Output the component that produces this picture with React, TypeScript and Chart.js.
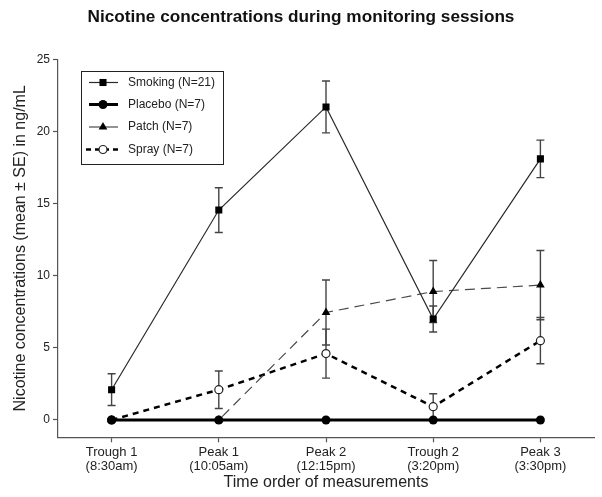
import React, { useEffect, useRef } from 'react';
import { Chart, registerables } from 'chart.js';
import { drawPoint } from 'chart.js/helpers';

Chart.register(...registerables);

const categories: string[][] = [
  ['Trough 1', '(8:30am)'],
  ['Peak 1', '(10:05am)'],
  ['Peak 2', '(12:15pm)'],
  ['Trough 2', '(3:20pm)'],
  ['Peak 3', '(3:30pm)'],
];
const seriesNames = ['Smoking (N=21)', 'Placebo (N=7)', 'Patch (N=7)', 'Spray (N=7)'];
const smoking = [2.1, 14.55, 21.7, 7.0, 18.1];
const smokingSE = [1.1, 1.55, 1.8, 0.9, 1.3];
const placebo = [0, 0, 0, 0, 0];
const placeboSE = [0, 0, 0, 0, 0];
const patch = [0, 0, 7.45, 8.9, 9.35];
const patchSE = [0, 0, 2.25, 2.15, 2.4];
const spray = [0, 2.1, 4.6, 0.92, 5.5];
const spraySE = [0, 1.3, 1.7, 0.9, 1.6];
const yTicks = [0, 5, 10, 15, 20, 25];

const titleText = 'Nicotine concentrations during monitoring sessions';
const xTitle = 'Time order of measurements';
const yTitle = 'Nicotine concentrations (mean \u00b1 SE) in ng/mL';

const FONT = '"Liberation Sans", Arial, Helvetica, sans-serif';

const errorBarPlugin = {
  id: 'errorBars',
  beforeDatasetsDraw(chart: any) {
    const { ctx } = chart;
    const yScale = chart.scales.y;
    ctx.save();
    ctx.strokeStyle = '#444';
    ctx.lineWidth = 1.4;
    chart.data.datasets.forEach((ds: any, i: number) => {
      const meta = chart.getDatasetMeta(i);
      const errs: number[] = ds.errors || [];
      meta.data.forEach((pt: any, j: number) => {
        const se = errs[j];
        if (!se) return;
        const v = ds.data[j];
        const yt = yScale.getPixelForValue(v + se);
        const yb = yScale.getPixelForValue(v - se);
        const x = pt.x;
        ctx.beginPath();
        ctx.moveTo(x, yt);
        ctx.lineTo(x, yb);
        ctx.moveTo(x - 4, yt);
        ctx.lineTo(x + 4, yt);
        ctx.moveTo(x - 4, yb);
        ctx.lineTo(x + 4, yb);
        ctx.stroke();
      });
    });
    ctx.restore();
  },
};

const titlePlugin = {
  id: 'customTitle',
  afterDraw(chart: any) {
    const { ctx } = chart;
    ctx.save();
    ctx.font = `bold 17.2px ${FONT}`;
    ctx.fillStyle = '#111';
    ctx.textAlign = 'center';
    ctx.textBaseline = 'middle';
    ctx.fillText(titleText, 301, 17);
    ctx.restore();
  },
};

const legendPlugin = {
  id: 'customLegend',
  afterDraw(chart: any) {
    const { ctx } = chart;
    ctx.save();
    ctx.fillStyle = '#fff';
    ctx.fillRect(81.5, 71.5, 142, 93);
    ctx.strokeStyle = '#222';
    ctx.lineWidth = 1;
    ctx.strokeRect(81.5, 71.5, 142, 93);
    const rows = [82.5, 104.5, 127, 149.5];
    chart.data.datasets.forEach((ds: any, i: number) => {
      const y = rows[i];
      ctx.save();
      ctx.strokeStyle = ds.borderColor;
      ctx.lineWidth = ds.borderWidth;
      ctx.setLineDash(i === 3 ? [5, 4] : []);
      ctx.beginPath();
      ctx.moveTo(i === 3 ? 86 : 89, y);
      ctx.lineTo(118, y);
      ctx.stroke();
      ctx.restore();
      ctx.save();
      ctx.fillStyle = ds.pointBackgroundColor;
      ctx.strokeStyle = ds.pointBorderColor;
      ctx.lineWidth = ds.pointBorderWidth;
      drawPoint(ctx, {
        pointStyle: ds.pointStyle,
        rotation: 0,
        radius: ds.pointRadius,
        borderWidth: ds.pointBorderWidth,
      } as any, 103, y);
      ctx.restore();
      ctx.fillStyle = '#222';
      ctx.font = `12px ${FONT}`;
      ctx.textAlign = 'left';
      ctx.textBaseline = 'middle';
      ctx.fillText(ds.label, 128, y);
    });
    ctx.restore();
  },
};

export default function App() {
  const canvasRef = useRef<HTMLCanvasElement | null>(null);

  useEffect(() => {
    const canvas = canvasRef.current;
    if (!canvas) return;
    const chart = new Chart(canvas, {
      type: 'line',
      data: {
        labels: categories,
        datasets: [
          {
            label: seriesNames[0],
            data: smoking,
            errors: smokingSE,
            borderColor: '#2a2a2a',
            borderWidth: 1.2,
            pointStyle: 'rect',
            pointRadius: 5,
            pointBackgroundColor: '#000',
            pointBorderColor: '#000',
            pointBorderWidth: 0,
            fill: false,
            tension: 0,
          } as any,
          {
            label: seriesNames[1],
            data: placebo,
            errors: placeboSE,
            borderColor: '#000',
            borderWidth: 3,
            pointStyle: 'circle',
            pointRadius: 4.5,
            pointBackgroundColor: '#000',
            pointBorderColor: '#000',
            pointBorderWidth: 0,
            fill: false,
            tension: 0,
          },
          {
            label: seriesNames[2],
            data: patch,
            errors: patchSE,
            borderColor: '#4a4a4a',
            borderWidth: 1.2,
            borderDash: [10, 6],
            pointStyle: 'triangle',
            pointRadius: 5,
            pointBackgroundColor: '#000',
            pointBorderColor: '#000',
            pointBorderWidth: 0,
            fill: false,
            tension: 0,
          },
          {
            label: seriesNames[3],
            data: spray,
            errors: spraySE,
            borderColor: '#000',
            borderWidth: 2.5,
            borderDash: [6, 5],
            pointStyle: 'circle',
            pointRadius: 4,
            pointBackgroundColor: '#fff',
            pointBorderColor: '#222',
            pointBorderWidth: 1.2,
            fill: false,
            tension: 0,
          },
        ],
      },
      options: {
        responsive: false,
        animation: false,
        layout: { padding: { top: 59.3, right: 8, left: 0, bottom: 0 } },
        plugins: {
          legend: { display: false },
          tooltip: { enabled: false },
          title: { display: false },
        },
        scales: {
          x: {
            type: 'category',
            offset: true,
            afterFit: (s: any) => { s.height = 59.7; },
            grid: {
              display: true,
              offset: false,
              drawOnChartArea: false,
              drawTicks: true,
              tickLength: 5,
              color: '#555',
              tickWidth: 1.2,
            },
            border: { display: true, color: '#555', width: 1.2 },
            ticks: {
              padding: 3,
              color: '#222',
              maxRotation: 0,
              autoSkip: false,
              font: { size: 13, family: FONT, lineHeight: 1.08 },
            },
            title: {
              display: true,
              text: xTitle,
              color: '#222',
              padding: { top: 0, bottom: 4.5 },
              font: { size: 16, family: FONT, lineHeight: 1.2 },
            },
          },
          y: {
            type: 'linear',
            min: -1.2,
            max: 25,
            afterBuildTicks: (s: any) => { s.ticks = yTicks.map((v) => ({ value: v })); },
            afterFit: (s: any) => { s.width = 58; },
            grid: {
              display: true,
              drawOnChartArea: false,
              drawTicks: true,
              tickLength: 5,
              color: '#555',
              tickWidth: 1.2,
            },
            border: { display: true, color: '#555', width: 1.2 },
            ticks: {
              padding: 3,
              color: '#222',
              font: { size: 12, family: FONT },
            },
            title: {
              display: true,
              text: yTitle,
              color: '#222',
              padding: { top: 11, bottom: 0 },
              font: { size: 16, family: FONT, lineHeight: 1.2 },
            },
          },
        },
      } as any,
      plugins: [errorBarPlugin, titlePlugin, legendPlugin],
    });
    return () => chart.destroy();
  }, []);

  return (
    <div style={{ position: 'fixed', left: 0, top: 0, width: 602, height: 497, background: '#fff' }}>
      <canvas ref={canvasRef} width={602} height={497} />
    </div>
  );
}
